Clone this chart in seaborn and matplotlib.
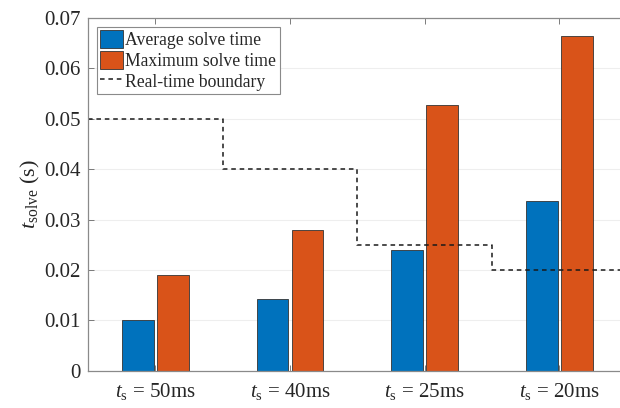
import matplotlib
matplotlib.use("Agg")
import matplotlib.pyplot as plt
import seaborn as sns
import pandas as pd
from matplotlib.ticker import FuncFormatter, MultipleLocator

categories = ["50ms", "40ms", "25ms", "20ms"]
avg_time = [0.0100, 0.0143, 0.0239, 0.0336]
max_time = [0.0191, 0.0280, 0.0527, 0.0665]
boundary = [0.05, 0.04, 0.025, 0.02]
series_names = ["Average solve time", "Maximum solve time"]

sns.set_theme(style="white")
plt.rcParams["font.family"] = ["Liberation Serif", "DejaVu Serif"]
plt.rcParams["mathtext.fontset"] = "custom"
plt.rcParams["mathtext.rm"] = "Liberation Serif"
plt.rcParams["mathtext.it"] = "Liberation Serif:italic"

labels = [r"$t_{\mathrm{s}}$ = " + c for c in categories]
df = pd.DataFrame({
    "cat": labels * 2,
    "val": avg_time + max_time,
    "series": [series_names[0]] * 4 + [series_names[1]] * 4,
})

fig = plt.figure(figsize=(6.2, 4.08), dpi=100)
ax = fig.add_axes([0.142, 0.091, 0.858, 0.865])
ax.set_axisbelow(True)
ax.grid(True, color="#eeeeee", linewidth=0.8)

sns.barplot(data=df, x="cat", y="val", hue="series", order=labels,
            hue_order=series_names, palette=["#0072BD", "#D95319"],
            width=0.52, gap=0.1, edgecolor="#333333", linewidth=0.6,
            saturation=1, ax=ax, errorbar=None)

xs = [-0.5, 0.5, 1.5, 2.5, 3.5]
ys = boundary + [boundary[-1]]
ax.step(xs, ys, where="post", color="#1a1a1a", linestyle=(0, (3, 2.5)),
        linewidth=1.1, label="Real-time boundary")

ax.set_xlim(-0.5, 3.45)
ax.set_ylim(0, 0.07)
ax.yaxis.set_major_locator(MultipleLocator(0.01))
ax.yaxis.set_major_formatter(FuncFormatter(lambda v, p: f"{v:.2f}" if v > 1e-9 else "0"))
ax.set_xlabel("")
ax.set_ylabel(r"$t_{\mathrm{solve}}$ (s)", fontsize=16, labelpad=2)
ax.tick_params(axis="both", direction="in", length=4, width=0.6, color="#666666",
               labelsize=15, labelcolor="#262626", top=True, bottom=True, left=True, right=False)
ax.tick_params(axis="x", pad=7)
ax.tick_params(axis="y", pad=5)
for s in ["left", "bottom", "top"]:
    ax.spines[s].set_color("#8a8a8a")
    ax.spines[s].set_linewidth(0.9)
ax.spines["right"].set_visible(False)

leg = ax.legend(loc="upper left", bbox_to_anchor=(0.016, 0.975), fontsize=12.7,
                frameon=True, fancybox=False, edgecolor="#8a8a8a", framealpha=1,
                handlelength=1.3, handleheight=1.15, handletextpad=0.12,
                borderpad=0.2, labelspacing=0.12, borderaxespad=0)
leg.get_frame().set_linewidth(0.8)

fig.savefig("out.png", dpi=100)
